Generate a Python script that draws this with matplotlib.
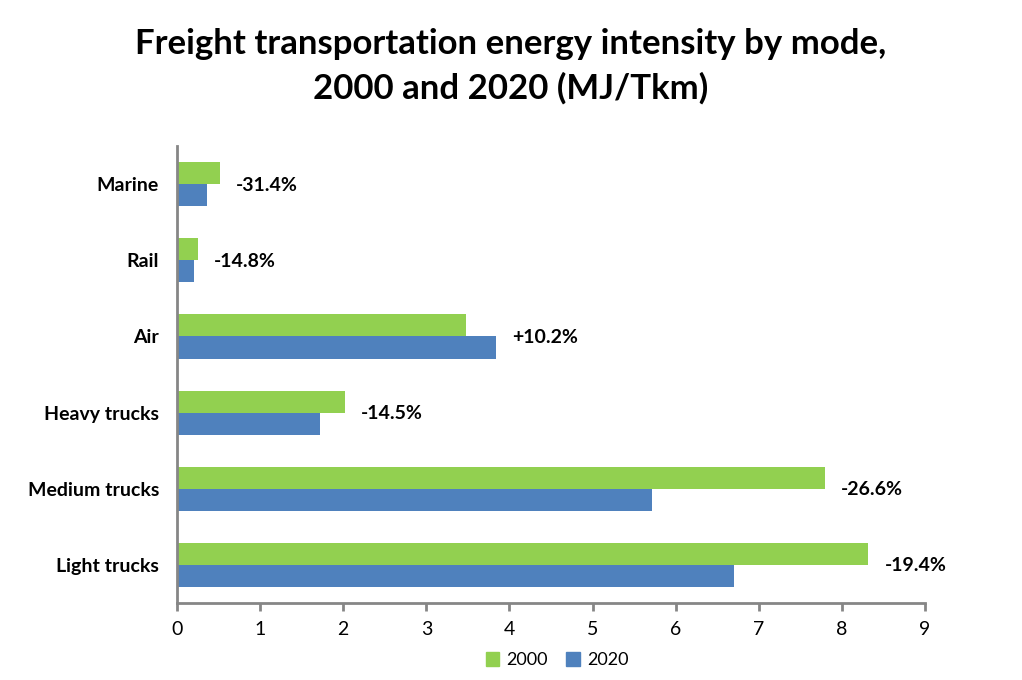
import matplotlib.pyplot as plt
import numpy as np
from matplotlib.patches import Patch

plt.rcParams['font.family'] = ['Lato', 'DejaVu Sans']

modes = ['Light trucks', 'Medium trucks', 'Heavy trucks', 'Air', 'Rail', 'Marine']
v2000 = [8.32, 7.80, 2.02, 3.48, 0.25, 0.52]
v2020 = [6.70, 5.72, 1.72, 3.84, 0.21, 0.36]
changes = ['-19.4%', '-26.6%', '-14.5%', '+10.2%', '-14.8%', '-31.4%']

green = '#92D050'
blue = '#4F81BD'
grey = '#868686'

fig = plt.figure(figsize=(10.22, 6.8), dpi=100)
ax = fig.add_axes([0.1732, 0.1132, 0.7319, 0.6721])

y = np.arange(len(modes))
h = 0.29
ax.barh(y + h / 2, v2000, height=h, color=green, label='2000')
ax.barh(y - h / 2, v2020, height=h, color=blue, label='2020')

for i in range(len(modes)):
    xm = max(v2000[i], v2020[i])
    ax.annotate(changes[i], (xm, y[i]), xytext=(16, -1), textcoords='offset pixels',
                ha='left', va='center', fontsize=14, fontweight='bold')

ax.set_xlim(0, 9)
ax.set_ylim(-0.5, len(modes) - 0.5)
ax.set_xticks(range(10))
ax.set_yticks(y)
ax.set_yticklabels(modes, fontsize=14, fontweight='bold')
ax.tick_params(axis='y', length=0, pad=13)
ax.tick_params(axis='x', direction='out', length=6, width=2, color=grey, labelsize=14, pad=7)
for s in ['top', 'right']:
    ax.spines[s].set_visible(False)
for s in ['left', 'bottom']:
    ax.spines[s].set_color(grey)
    ax.spines[s].set_linewidth(2)

fig.text(0.5, 0.903, 'Freight transportation energy intensity by mode,\n2000 and 2020 (MJ/Tkm)',
         ha='center', va='center', fontsize=25, fontweight='bold', linespacing=1.45)

handles = [Patch(color=green, label='2000'), Patch(color=blue, label='2020')]
fig.legend(handles=handles, loc='center', bbox_to_anchor=(0.545, 0.029), ncol=2, frameon=False,
           handlelength=0.75, handleheight=0.75, handletextpad=0.4, columnspacing=1.0, fontsize=13)

fig.savefig('out.png', dpi=100)
